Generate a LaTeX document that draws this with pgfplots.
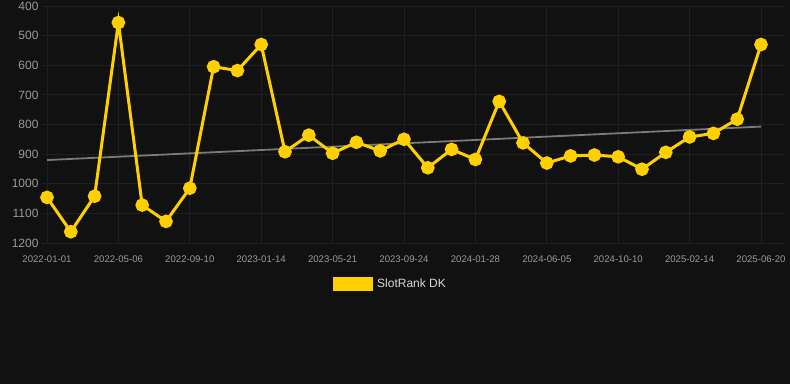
\documentclass[border=0pt]{standalone}
\usepackage{pgfplots}
\pgfplotsset{compat=1.18}
\usepackage{fontspec}
\setmainfont{Liberation Sans}
\definecolor{bg}{HTML}{111111}
\definecolor{gridc}{HTML}{1F1F1F}
\definecolor{gold}{HTML}{FFD000}
\definecolor{trendc}{HTML}{7A7A7A}
\definecolor{lab}{HTML}{9A9A9A}
\begin{document}
\begin{tikzpicture}[x=1pt,y=1pt]
\fill[bg] (0,0) rectangle (790,384);
\begin{axis}[
  at={(42pt,141pt)}, anchor=south west,
  scale only axis, width=742.8pt, height=237pt,
  xmin=-0.21, xmax=31, ymin=400, ymax=1200, y dir=reverse,
  xtick={0,3,...,30},
  xticklabels={2022-01-01,2022-05-06,2022-09-10,2023-01-14,2023-05-21,2023-09-24,2024-01-28,2024-06-05,2024-10-10,2025-02-14,2025-06-20},
  ytick={400,500,...,1200},
  /pgf/number format/assume math mode=true,
  /pgf/number format/1000 sep={},
  grid=major, major grid style={gridc, line width=0.8pt},
  axis line style={draw=none}, tick style={draw=none},
  yticklabel style={font=\fontsize{12}{12}\selectfont, text=lab, xshift=0pt},
  xticklabel style={font=\fontsize{9.6}{10}\selectfont, text=lab, yshift=-9pt},
  legend style={at={(0.3918,-0.173)}, anchor=west, draw=none, fill=none, inner sep=0pt,
    font=\fontsize{12}{12}\selectfont, text=white!85!black,
    nodes={inner xsep=4pt}},
  clip=false,
]
\addplot[trendc, line width=1.8pt, forget plot] coordinates {(0,920) (30,807)};
\addplot[gold, line width=3pt, mark=*, mark size=5.3pt, mark options={fill=gold, draw=gold},
  legend image code/.code={\fill[gold] (0pt,-5.5pt) rectangle (37pt,5.5pt);}]
coordinates {
(0,1046) (1,1162) (2,1042) (3,456) (4,1072) (5,1127) (6,1015) (7,605) (8,618) (9,530)
(10,892) (11,836) (12,897) (13,860) (14,889) (15,850) (16,946) (17,884) (18,918) (19,722)
(20,862) (21,930) (22,906) (23,903) (24,909) (25,951) (26,894) (27,842) (28,830) (29,782) (30,530)
};
\addlegendentry{SlotRank DK}
\end{axis}
\pgfresetboundingbox
\path[use as bounding box] (0,0) rectangle (790,384);
\end{tikzpicture}
\end{document}
